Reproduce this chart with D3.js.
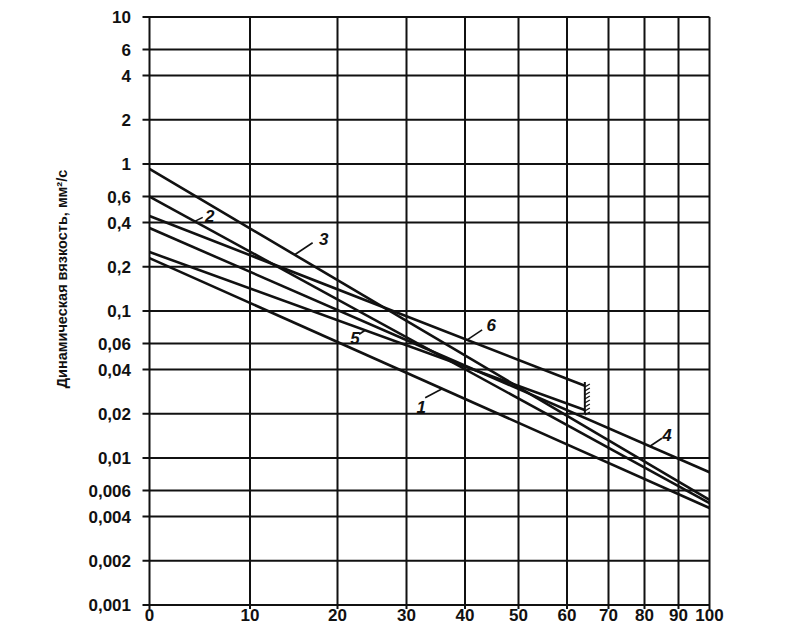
<!DOCTYPE html>
<html>
<head>
<meta charset="utf-8">
<script src="https://cdn.jsdelivr.net/npm/d3@7"></script>
<style>
  body { margin: 0; background: #fff; }
  svg { display: block; }
  text { font-family: "Liberation Sans", Arial, sans-serif; fill: #111; }
</style>
</head>
<body>
<div id="chart"></div>
<script>
// Температура, °C (ось X) и вязкость (ось Y, логарифм.)
const xTicks = [0, 10, 20, 30, 40, 50, 60, 70, 80, 90, 100];
const yTicks = [10, 6, 4, 2, 1, 0.6, 0.4, 0.2, 0.1, 0.06, 0.04, 0.02, 0.01, 0.006, 0.004, 0.002, 0.001];
const yTickLabels = ["10", "6", "4", "2", "1", "0,6", "0,4", "0,2", "0,1", "0,06", "0,04", "0,02", "0,01", "0,006", "0,004", "0,002", "0,001"];

// линии 1..6: начало и конец (t, вязкость)
const lineNames = ["1", "2", "3", "4", "5", "6"];
const lineT0 = [0, 0, 0, 0, 0, 0];
const lineT1 = [100, 100, 100, 100, 64.3, 64.3];
const lineV0 = [0.229, 0.6, 0.925, 0.367, 0.252, 0.443];
const lineV1 = [0.00457, 0.00494, 0.00518, 0.0080, 0.0212, 0.031];
const labelT = [36.1, 4.5, 15.1, 81.6, 24, 40.4];

// граница (штриховка) у линий 5 и 6
const hatchT = 64.3;
const hatchV = [0.0329, 0.0202];

const W = 807, H = 625;
const xTickPos = [149.5, 250, 337.5, 406.5, 465, 518.5, 567, 608.5, 644.5, 678.5, 709.5];
const x = d3.scaleLinear().domain(xTicks).range(xTickPos);
const y = d3.scaleLog().domain([0.001, 10]).range([605, 17]);

const svg = d3.select("#chart").append("svg")
    .attr("width", W)
    .attr("height", H);
svg.append("rect").attr("width", W).attr("height", H).attr("fill", "#fff");

// сетка
svg.append("g").selectAll("line")
    .data(yTicks)
    .enter().append("line")
    .attr("x1", x(0) - 7).attr("x2", x(100))
    .attr("y1", d => y(d)).attr("y2", d => y(d))
    .attr("stroke", "#111").attr("stroke-width", 2);

svg.append("g").selectAll("line")
    .data(xTicks)
    .enter().append("line")
    .attr("x1", d => x(d)).attr("x2", d => x(d))
    .attr("y1", y(10)).attr("y2", y(0.001) + 4)
    .attr("stroke", "#111").attr("stroke-width", 2);

// подписи осей
svg.append("g").selectAll("text")
    .data(yTicks)
    .enter().append("text")
    .attr("x", 131)
    .attr("y", d => y(d))
    .attr("dy", "0.36em")
    .attr("text-anchor", "end")
    .style("font-size", "17px")
    .style("font-weight", "bold")
    .text((d, i) => yTickLabels[i]);

svg.append("g").selectAll("text")
    .data(xTicks)
    .enter().append("text")
    .attr("x", d => x(d))
    .attr("y", 621)
    .attr("text-anchor", "middle")
    .style("font-size", "17px")
    .style("font-weight", "bold")
    .text(d => d);

svg.append("text")
    .attr("transform", "translate(67,279) rotate(-90)")
    .attr("text-anchor", "middle")
    .style("font-size", "14.5px")
    .style("font-weight", "bold")
    .text("Динамическая вязкость, мм²/с");

// линии вязкости
const lineGen = d3.line().x(d => x(d[0])).y(d => y(d[1]));
const lines = lineNames.map((n, i) => ({
    name: n,
    pts: [[lineT0[i], lineV0[i]], [lineT1[i], lineV1[i]]]
}));

svg.append("g").selectAll("path")
    .data(lines)
    .enter().append("path")
    .attr("d", d => lineGen(d.pts))
    .attr("fill", "none")
    .attr("stroke", "#111")
    .attr("stroke-width", 2.6);

// точка касания выноски на прямой (в пикселях линия прямая)
function touch(i) {
    const x0 = x(lineT0[i]), x1 = x(lineT1[i]);
    const y0 = y(lineV0[i]), y1 = y(lineV1[i]);
    const px = x(labelT[i]);
    return [px, y0 + (y1 - y0) * (px - x0) / (x1 - x0)];
}

// смещения выносок и номеров: [dx, dy выноски, dx, dy текста]
const labelOffsets = [
    [-17, 9, -21, 24],
    [8, -4, 15, 1],
    [18, -12, 29, -10],
    [12, -8, 17, -5],
    [-6, 4, -10, 14],
    [15, -10, 24, -9]
];

const lab = svg.append("g");
lineNames.forEach((n, i) => {
    const [px, py] = touch(i);
    const o = labelOffsets[i];
    lab.append("line")
        .attr("x1", px).attr("y1", py)
        .attr("x2", px + o[0]).attr("y2", py + o[1])
        .attr("stroke", "#111").attr("stroke-width", 1.6);
    lab.append("text")
        .attr("x", px + o[2]).attr("y", py + o[3])
        .attr("text-anchor", "middle")
        .style("font-size", "17px")
        .style("font-style", "italic")
        .style("font-weight", "bold")
        .text(n);
});

// штриховка границы
const hx = x(hatchT);
svg.append("line")
    .attr("x1", hx).attr("x2", hx)
    .attr("y1", y(hatchV[0])).attr("y2", y(hatchV[1]))
    .attr("stroke", "#111").attr("stroke-width", 2);
const hatchTicks = d3.range(y(hatchV[0]) + 2, y(hatchV[1]), 4);
svg.append("g").selectAll("line")
    .data(hatchTicks)
    .enter().append("line")
    .attr("x1", hx).attr("y1", d => d + 3)
    .attr("x2", hx + 5).attr("y2", d => d)
    .attr("stroke", "#111").attr("stroke-width", 1.3);
</script>
</body>
</html>
